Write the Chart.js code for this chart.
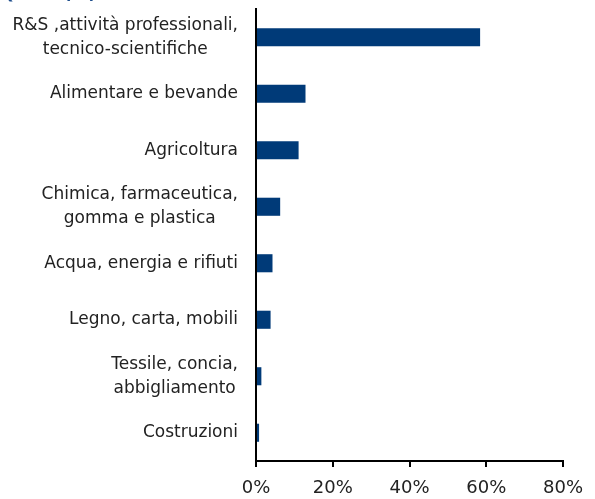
<!DOCTYPE html>
<html>
<head>
<meta charset="utf-8">
<script src="https://cdn.jsdelivr.net/npm/chart.js@4"></script>
<style>
    html, body { margin: 0; padding: 0; background: #fff; overflow: hidden; }
    #wrap { position: relative; width: 595px; height: 499px; }
    #title { position: absolute; left: 0; top: -17px; font: bold 17px "DejaVu Sans", sans-serif; color: #1f4e8c; white-space: nowrap; }
</style>
</head>
<body>
<div id="wrap">
    <div id="title">Quota (%)</div>
    <canvas id="barChart" width="595" height="499"></canvas>
</div>
<script>
// Categorie e valori (%)
const categories = [
    ["R&S ,attività professionali,", "tecnico-scientifiche"],
    "Alimentare e bevande",
    "Agricoltura",
    ["Chimica, farmaceutica,", "gomma e plastica"],
    "Acqua, energia e rifiuti",
    "Legno, carta, mobili",
    ["Tessile, concia,", "abbigliamento"],
    "Costruzioni"
];
const values = [58.4, 12.9, 11.1, 6.3, 4.3, 3.8, 1.4, 0.8];
const xTicks = [0, 20, 40, 60, 80];

const textColor = "#222";

// Etichette delle categorie: righe centrate tra loro, blocco allineato a destra
const categoryLabels = {
    id: "categoryLabels",
    afterDraw(chart) {
        const ctx = chart.ctx;
        const yScale = chart.scales.y;
        const right = yScale.right - 18;
        const lineH = 24;
        ctx.save();
        ctx.font = '17px "DejaVu Sans"';
        ctx.fillStyle = textColor;
        ctx.textBaseline = "middle";
        ctx.textAlign = "center";
        categories.forEach((label, i) => {
            const lines = Array.isArray(label) ? label : [label];
            const w = Math.max(...lines.map(l => ctx.measureText(l).width));
            const cx = right - w / 2;
            const yc = yScale.getPixelForValue(i);
            lines.forEach((line, j) => {
                ctx.fillText(line, cx, yc + (j - (lines.length - 1) / 2) * lineH);
            });
        });
        ctx.restore();
    }
};

new Chart(document.getElementById("barChart"), {
    type: "bar",
    data: {
        labels: categories,
        datasets: [{
            data: values,
            backgroundColor: "#003a78",
            borderWidth: 0,
            barPercentage: 0.64,
            categoryPercentage: 0.5
        }]
    },
    options: {
        indexAxis: "y",
        responsive: false,
        animation: false,
        layout: { padding: { top: 9, right: 32, left: 0, bottom: 0 } },
        plugins: {
            legend: { display: false },
            tooltip: { enabled: false }
        },
        scales: {
            x: {
                min: xTicks[0],
                max: xTicks[xTicks.length - 1],
                afterBuildTicks: axis => { axis.ticks = xTicks.map(v => ({ value: v })); },
                afterFit: axis => { axis.height = 38; axis.paddingLeft = 0; axis.paddingRight = 0; },
                grid: { drawOnChartArea: false, drawTicks: true, tickLength: 6, color: "#000", lineWidth: 2 },
                border: { color: "#000", width: 2 },
                ticks: {
                    color: textColor,
                    font: { family: "DejaVu Sans", size: 18 },
                    padding: 11,
                    callback: v => v + "%"
                }
            },
            y: {
                afterFit: axis => { axis.width = 256; axis.paddingTop = 0; axis.paddingBottom = 0; },
                grid: { display: false, drawTicks: false },
                border: { color: "#000", width: 2 },
                ticks: { display: false }
            }
        }
    },
    plugins: [categoryLabels]
});
</script>
</body>
</html>
